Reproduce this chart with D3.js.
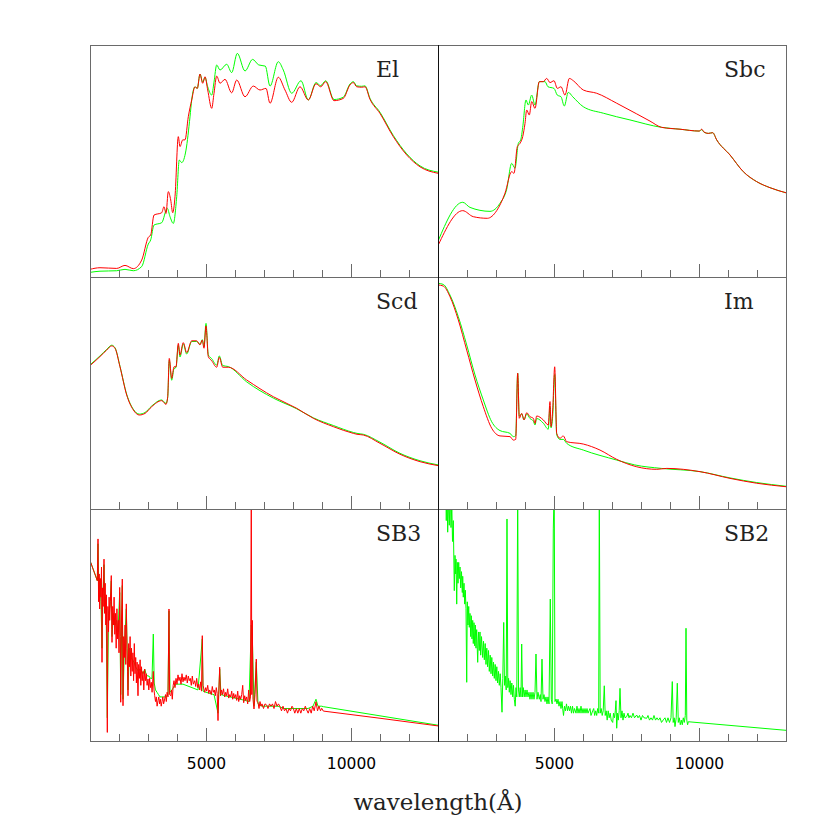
<!DOCTYPE html>
<html><head><meta charset="utf-8">
<script src="https://cdn.jsdelivr.net/npm/d3@7"></script>
<style>body{margin:0;background:#fff}</style>
</head><body>
<svg id="c" width="830" height="830"></svg>
<script>
// ---------------- data ----------------
const panelNames=["El","Sbc","Scd","Im","SB3","SB2"];
const minorTicks=[2000,3000,4000,6000,7000,8000,9000,11000,12000];
const majorTicks=[5000,10000];
const tickLabels=["5000","10000"];
const xTitle="wavelength(Å)";
const xDomain=[1000,13000];

const elRed=[[1000,.033],[1345,.040],[1921,.037],[2207,.050],[2493,.036],[2783,.073],[3010,.171],[3093,.181],[3207,.267],[3472,.277],[3552,.303],[3621,.274],[3700,.368],[3783,.332],[3852,.277],[3931,.346],[4045,.605],[4103,.562],[4197,.591],[4276,.591],[4390,.691],[4507,.763],[4621,.820],[4700,.813],[4793,.875],[4886,.835],[4966,.863],[5059,.806],[5197,.727],[5276,.792],[5369,.866],[5483,.835],[5655,.852],[5886,.794],[6059,.849],[6345,.777],[6631,.823],[6862,.806],[7069,.813],[7207,.749],[7493,.861],[7724,.806],[7955,.753],[8241,.820],[8528,.763],[8793,.833],[8955,.820],[9128,.842],[9414,.760],[9735,.770],[9966,.828],[10079,.838],[10197,.820],[10369,.818],[10483,.820],[10655,.766],[11000,.705],[11459,.605],[11921,.526],[12379,.475],[13000,.447]];
const elGreen=[[1000,.020],[1345,.025],[1921,.027],[2207,.033],[2493,.027],[2783,.045],[3010,.142],[3093,.160],[3207,.224],[3472,.234],[3666,.296],[3759,.260],[3873,.231],[3990,.346],[4079,.504],[4162,.493],[4310,.547],[4448,.690],[4507,.763],[4621,.820],[4700,.813],[4793,.875],[4886,.840],[4966,.860],[5059,.820],[5197,.784],[5276,.840],[5369,.914],[5483,.892],[5714,.917],[5886,.881],[6079,.964],[6345,.888],[6607,.938],[6820,.914],[7045,.909],[7207,.823],[7493,.928],[7666,.892],[7955,.792],[8276,.846],[8528,.763],[8793,.838],[8955,.825],[9128,.846],[9414,.765],[9735,.775],[9966,.832],[10079,.842],[10197,.824],[10369,.822],[10483,.824],[10655,.770],[11000,.710],[11459,.610],[11921,.531],[12379,.479],[13000,.452]];

const sbcRed=[[1010,.138],[1852,.286],[2217,.260],[2700,.253],[3024,.286],[3310,.361],[3541,.454],[3621,.447],[3735,.562],[3828,.576],[3921,.605],[4000,.662],[4059,.720],[4148,.698],[4231,.756],[4345,.727],[4493,.842],[4631,.842],[4748,.856],[4862,.838],[5000,.846],[5114,.813],[5241,.820],[5379,.784],[5528,.856],[5666,.846],[6010,.806],[6472,.792],[7162,.749],[7852,.703],[8310,.672],[8714,.645],[9345,.637],[10010,.629],[10093,.637],[10172,.625],[10320,.619],[10472,.622],[10610,.591],[11069,.526],[11528,.454],[11990,.411],[12448,.385],[13000,.363]];
const sbcGreen=[[1010,.157],[1852,.322],[2103,.300],[2793,.283],[3138,.318],[3368,.378],[3541,.490],[3655,.469],[3770,.576],[3852,.591],[3921,.645],[4034,.763],[4114,.741],[4231,.784],[4345,.741],[4493,.842],[4690,.842],[4793,.820],[5000,.813],[5114,.784],[5241,.777],[5355,.737],[5493,.796],[5645,.777],[6010,.734],[6700,.706],[7620,.677],[8714,.645],[9345,.637],[10010,.629],[10093,.635],[10172,.624],[10320,.619],[10472,.622],[10610,.591],[11069,.526],[11528,.454],[11990,.411],[12448,.385],[13000,.363]];

const scdRed=[[1000,.618],[1345,.657],[1576,.685],[1748,.703],[1862,.693],[2034,.613],[2266,.491],[2493,.427],[2700,.405],[2897,.412],[3128,.441],[3472,.467],[3621,.451],[3679,.484],[3734,.649],[3817,.563],[3897,.613],[3966,.613],[4045,.714],[4103,.664],[4217,.717],[4334,.674],[4507,.725],[4679,.725],[4793,.707],[4872,.728],[4931,.693],[5000,.789],[5079,.657],[5197,.639],[5369,.611],[5459,.654],[5576,.611],[5769,.611],[6403,.556],[7321,.484],[8128,.434],[8700,.391],[9390,.355],[10079,.326],[10207,.322],[10424,.319],[11000,.283],[11690,.236],[12379,.204],[13000,.187]];
const scdGreen=[[1000,.621],[1345,.660],[1576,.688],[1748,.706],[1862,.695],[2034,.615],[2266,.494],[2493,.430],[2700,.409],[2897,.416],[3128,.444],[3472,.470],[3621,.455],[3679,.480],[3734,.640],[3817,.555],[3897,.605],[3966,.610],[4045,.705],[4103,.655],[4217,.712],[4334,.668],[4507,.722],[4679,.722],[4793,.710],[4872,.730],[4931,.700],[5000,.800],[5079,.664],[5197,.648],[5369,.620],[5459,.660],[5576,.618],[5769,.614],[6403,.548],[7321,.478],[8128,.432],[8700,.393],[9390,.360],[10079,.330],[10207,.326],[10424,.322],[11000,.288],[11690,.240],[12379,.208],[13000,.190]];

const imRed=[[1000,.966],[1183,.961],[1414,.915],[1700,.815],[1990,.685],[2276,.556],[2562,.441],[2852,.348],[3138,.315],[3483,.312],[3597,.297],[3679,.300],[3748,.585],[3803,.391],[3886,.412],[3966,.384],[4059,.415],[4172,.398],[4286,.391],[4345,.369],[4403,.401],[4631,.384],[4803,.362],[4862,.463],[4897,.355],[4955,.427],[5024,.613],[5093,.326],[5207,.305],[5321,.315],[5438,.290],[6010,.280],[6586,.254],[7162,.214],[7852,.182],[8541,.171],[8886,.175],[10034,.161],[11069,.132],[11990,.111],[13000,.096]];
const imGreen=[[1000,.973],[1183,.968],[1414,.922],[1700,.829],[1990,.707],[2276,.578],[2562,.470],[2852,.376],[3138,.338],[3483,.326],[3597,.312],[3679,.315],[3748,.585],[3803,.400],[3886,.410],[3966,.385],[4059,.410],[4172,.390],[4286,.380],[4345,.362],[4403,.390],[4631,.370],[4803,.344],[4862,.440],[4897,.350],[4955,.400],[5024,.580],[5093,.320],[5207,.300],[5321,.300],[5438,.283],[6010,.254],[7162,.211],[7783,.190],[8700,.175],[10034,.161],[11069,.134],[11990,.114],[13000,.098]];

const sb3Red=[[1024,.770],[1252,.691],[1276,.871],[1297,.60],[1317,.72],[1334,.569],[1355,.70],[1376,.62],[1397,.75],[1414,.339],[1434,.66],[1455,.58],[1483,.784],[1503,.55],[1524,.68],[1545,.50],[1566,.63],[1597,.037],[1617,.58],[1638,.47],[1659,.62],[1679,.52],[1703,.60],[1734,.713],[1752,.48],[1759,.425],[1783,.58],[1807,.50],[1831,.62],[1855,.46],[1879,.55],[1903,.40],[1928,.57],[1952,.44],[1976,.52],[2000,.38],[2024,.662],[2045,.45],[2059,.167],[2083,.50],[2114,.698],[2138,.152],[2162,.45],[2186,.36],[2210,.50],[2234,.33],[2252,.591],[2276,.40],[2297,.30],[2310,.195],[2334,.42],[2359,.32],[2383,.45],[2407,.28],[2431,.40],[2455,.30],[2479,.38],[2503,.26],[2528,.42],[2552,.29],[2576,.36],[2600,.25],[2624,.34],[2655,.195],[2679,.33],[2703,.27],[2728,.35],[2752,.24],[2776,.32],[2800,.26],[2828,.30],[2855,.22],[2886,.310],[2914,.26],[2941,.29],[2969,.24],[3000,.267],[3028,.22],[3055,.27],[3083,.23],[3114,.253],[3141,.21],[3183,.30],[3207,.22],[3231,.195],[3259,.17],[3286,.19],[3314,.15],[3345,.174],[3372,.19],[3400,.16],[3428,.18],[3455,.15],[3483,.17],[3510,.19],[3538,.16],[3576,.181],[3603,.20],[3631,.17],[3659,.21],[3690,.19],[3724,.569],[3745,.20],[3783,.195],[3810,.22],[3838,.18],[3869,.24],[3897,.260],[3931,.23],[3966,.27],[4000,.245],[4034,.285],[4069,.26],[4103,.275],[4138,.245],[4172,.29],[4207,.255],[4241,.275],[4276,.26],[4321,.285],[4355,.25],[4390,.28],[4424,.26],[4459,.27],[4493,.24],[4528,.28],[4562,.245],[4610,.26],[4645,.235],[4679,.27],[4714,.23],[4748,.245],[4783,.22],[4817,.255],[4845,.215],[4872,.454],[4897,.24],[4955,.21],[4990,.23],[5024,.215],[5059,.24],[5093,.205],[5128,.22],[5183,.20],[5217,.235],[5252,.21],[5286,.22],[5321,.195],[5355,.23],[5386,.205],[5414,.088],[5438,.20],[5472,.318],[5500,.195],[5534,.22],[5569,.20],[5603,.225],[5645,.19],[5679,.21],[5714,.195],[5748,.225],[5783,.185],[5817,.20],[5852,.19],[5886,.215],[5921,.18],[5955,.205],[5990,.185],[6024,.20],[6059,.175],[6093,.215],[6128,.17],[6162,.195],[6197,.18],[6231,.20],[6266,.24],[6300,.165],[6334,.195],[6369,.175],[6403,.19],[6438,.16],[6472,.22],[6507,.17],[6534,.19],[6562,1.08],[6579,.20],[6597,.52],[6621,.18],[6655,.138],[6690,.20],[6734,.353],[6759,.17],[6793,.167],[6828,.14],[6862,.17],[6897,.15],[6931,.16],[6983,.14],[7034,.16],[7093,.155],[7138,.14],[7190,.16],[7241,.15],[7293,.16],[7345,.14],[7397,.17],[7448,.15],[7500,.16],[7552,.148],[7603,.13],[7655,.15],[7707,.13],[7759,.14],[7810,.12],[7862,.14],[7914,.13],[7966,.15],[8010,.141],[8062,.12],[8114,.14],[8166,.12],[8217,.14],[8269,.12],[8321,.14],[8372,.13],[8424,.15],[8472,.134],[8524,.12],[8576,.14],[8628,.12],[8679,.15],[8731,.13],[8793,.169],[8845,.13],[8897,.15],[8948,.13],[8990,.141],[9045,.129],[11000,.098],[13000,.065]];
const sb3Green=[[1024,.770],[1252,.691],[1276,.85],[1310,.62],[1345,.70],[1379,.60],[1414,.40],[1448,.64],[1483,.76],[1517,.58],[1552,.62],[1597,.10],[1638,.55],[1690,.58],[1734,.69],[1759,.45],[1810,.55],[1862,.50],[1914,.52],[1966,.47],[2024,.64],[2059,.20],[2114,.67],[2138,.18],[2190,.42],[2252,.57],[2310,.22],[2362,.40],[2414,.36],[2466,.35],[2517,.34],[2569,.32],[2621,.31],[2672,.30],[2724,.31],[2776,.30],[2828,.29],[2886,.31],[2931,.29],[2983,.28],[3034,.28],[3086,.27],[3138,.27],[3183,.461],[3214,.25],[3259,.22],[3310,.21],[3362,.20],[3414,.19],[3483,.19],[3552,.19],[3621,.19],[3690,.20],[3724,.56],[3759,.21],[3828,.22],[3897,.235],[3966,.245],[4034,.245],[4103,.245],[4207,.245],[4310,.24],[4414,.235],[4517,.23],[4621,.225],[4724,.22],[4872,.44],[4897,.215],[5000,.21],[5138,.205],[5276,.20],[5414,.12],[5472,.31],[5517,.20],[5655,.195],[5828,.19],[6000,.185],[6172,.18],[6345,.175],[6483,.17],[6562,.50],[6597,.45],[6655,.15],[6734,.34],[6793,.16],[6931,.15],[7093,.15],[7276,.15],[7483,.15],[7690,.14],[7897,.14],[8103,.14],[8310,.14],[8517,.14],[8690,.15],[8793,.18],[8862,.15],[8990,.15],[9045,.148],[12955,.069],[13000,.068]];

const sb2Green=[[1155,1.40],[1217,1.05],[1252,1.20],[1286,.95],[1310,1.10],[1334,.90],[1362,1.05],[1390,.93],[1424,1.10],[1448,.92],[1476,1.02],[1500,.86],[1528,.95],[1562,.648],[1586,.80],[1610,.72],[1621,.784],[1645,.590],[1666,.77],[1690,.68],[1714,.77],[1734,.70],[1759,.75],[1783,.66],[1810,.73],[1838,.64],[1852,.71],[1872,.62],[1897,.68],[1921,.59],[1941,.65],[1966,.57],[1990,.253],[2010,.60],[2034,.50],[2059,.58],[2079,.49],[2103,.55],[2128,.45],[2148,.54],[2172,.44],[2197,.52],[2217,.42],[2241,.51],[2266,.41],[2286,.50],[2310,.40],[2334,.48],[2369,.339],[2397,.47],[2424,.39],[2448,.47],[2472,.37],[2500,.45],[2541,.36],[2569,.43],[2597,.35],[2628,.42],[2655,.33],[2683,.40],[2710,.32],[2741,.39],[2769,.30],[2800,.37],[2828,.29],[2855,.36],[2886,.28],[2914,.34],[2941,.27],[2972,.33],[3000,.26],[3028,.32],[3055,.25],[3086,.30],[3114,.24],[3145,.29],[3172,.23],[3207,.124],[3234,.27],[3266,.511],[3293,.24],[3321,.28],[3352,.22],[3379,.957],[3407,.23],[3434,.27],[3459,.21],[3486,.26],[3517,.20],[3545,.25],[3576,.19],[3603,.24],[3631,.18],[3662,.15],[3690,.23],[3717,.19],[3748,1.10],[3776,.22],[3803,.19],[3834,.23],[3862,.19],[3886,.418],[3914,.19],[3941,.23],[3972,.19],[4003,.22],[4034,.19],[4069,.22],[4103,.19],[4138,.21],[4172,.18],[4207,.21],[4241,.18],[4276,.21],[4310,.18],[4345,.21],[4379,.375],[4414,.18],[4448,.21],[4493,.18],[4528,.20],[4552,.17],[4586,.353],[4621,.18],[4655,.20],[4690,.17],[4724,.19],[4759,.16],[4793,.19],[4828,.16],[4872,.612],[4907,.18],[4938,.16],[4976,.914],[5007,1.10],[5034,.17],[5069,.181],[5103,.16],[5138,.18],[5172,.15],[5207,.17],[5241,.14],[5276,.17],[5300,.14],[5328,.11],[5362,.15],[5397,.13],[5431,.16],[5466,.13],[5500,.15],[5534,.13],[5569,.15],[5603,.12],[5638,.15],[5672,.12],[5707,.14],[5759,.12],[5793,.15],[5828,.12],[5862,.14],[5897,.12],[5931,.15],[5966,.12],[6000,.14],[6034,.12],[6069,.14],[6103,.12],[6138,.14],[6172,.12],[6207,.13],[6241,.14],[6276,.11],[6334,.13],[6369,.14],[6403,.11],[6438,.13],[6472,.11],[6507,.14],[6541,.12],[6562,1.10],[6593,.12],[6628,.14],[6662,.11],[6697,.13],[6734,.238],[6766,.11],[6800,.13],[6834,.09],[6869,.13],[6903,.10],[6938,.12],[6972,.09],[7024,.080],[7052,.12],[7086,.10],[7114,.13],[7138,.174],[7162,.055],[7190,.12],[7217,.09],[7248,.13],[7276,.227],[7310,.10],[7345,.13],[7379,.09],[7414,.12],[7448,.10],[7507,.105],[7552,.12],[7586,.10],[7621,.11],[7672,.10],[7724,.12],[7776,.10],[7852,.112],[7897,.10],[7948,.11],[8000,.09],[8052,.11],[8103,.10],[8197,.098],[8241,.11],[8293,.09],[8345,.10],[8397,.09],[8448,.11],[8500,.09],[8552,.10],[8603,.09],[8655,.10],[8707,.08],[8769,.091],[8828,.10],[8879,.08],[8931,.10],[8983,.08],[9034,.10],[9079,.256],[9110,.08],[9145,.10],[9172,.062],[9214,.10],[9252,.249],[9286,.08],[9321,.10],[9355,.07],[9390,.09],[9424,.07],[9459,.10],[9493,.08],[9528,.11],[9552,.486],[9579,.09],[9607,.07],[9631,.083],[13000,.046]];

const panelSeries=[
  {green:elGreen, red:elRed, smooth:true},
  {green:sbcGreen, red:sbcRed, smooth:true},
  {green:scdGreen, red:scdRed, smooth:true},
  {green:imGreen, red:imRed, smooth:true},
  {green:sb3Green, red:sb3Red, smooth:false},
  {green:sb2Green, red:null, smooth:false}
];

// ---------------- layout ----------------
const L=90, T=45, W=348, H=232;
const svg=d3.select("#c");
const frameColor="#6a6a6a";

panelNames.forEach((name,i)=>{
  const col=i%2, row=Math.floor(i/2);
  const x0=L+col*W, y0=T+row*H;
  const x=d3.scaleLinear().domain(xDomain).range([x0,x0+W]);
  const y=d3.scaleLinear().domain([0,1]).range([y0+H,y0]);
  const cid="clip"+i;
  svg.append("clipPath").attr("id",cid).append("rect")
    .attr("x",x0).attr("y",y0).attr("width",W).attr("height",H);
  const g=svg.append("g").attr("clip-path",`url(#${cid})`);
  const s=panelSeries[i];
  const line=d3.line().x(d=>x(d[0])).y(d=>y(d[1]))
    .curve(s.smooth?d3.curveMonotoneX:d3.curveLinear);
  if(s.green) g.append("path").datum(s.green).attr("d",line)
    .attr("fill","none").attr("stroke","#00ff00").attr("stroke-width",1);
  if(s.red) g.append("path").datum(s.red).attr("d",line)
    .attr("fill","none").attr("stroke","#ff0000").attr("stroke-width",1);

  // ticks (inward, at the bottom of each panel)
  const gMinor=svg.append("g").attr("transform",`translate(0,${y0+H})`);
  gMinor.call(d3.axisBottom(x).tickValues(minorTicks).tickSize(-7).tickSizeOuter(0).tickFormat(""));
  const gMajor=svg.append("g").attr("transform",`translate(0,${y0+H})`);
  gMajor.call(d3.axisBottom(x).tickValues(majorTicks).tickSize(-13).tickSizeOuter(0).tickFormat(""));
  [gMinor,gMajor].forEach(ga=>{
    ga.selectAll(".domain").remove();
    ga.selectAll(".tick line").attr("stroke",frameColor);
  });

  if(row===2){
    const gl=svg.append("g").attr("transform",`translate(0,${y0+H})`);
    gl.call(d3.axisBottom(x).tickValues(majorTicks).tickSize(0)
      .tickFormat((d,k)=>tickLabels[k]));
    gl.selectAll(".domain").remove();
    gl.selectAll(".tick line").remove();
    gl.selectAll(".tick text").attr("y",28).attr("dy",null)
      .attr("font-family","DejaVu Sans, sans-serif").attr("font-size","15.5px").attr("fill","#000");
  }

  // frame
  svg.append("rect").attr("x",x0+0.5).attr("y",y0+0.5).attr("width",W).attr("height",H)
    .attr("fill","none").attr("stroke",frameColor).attr("stroke-width",1);

  // label
  svg.append("text").attr("x",x0+286).attr("y",y0+31.5)
    .attr("font-family","DejaVu Serif, serif").attr("font-size","22px")
    .attr("fill","#222").text(name);
});

// dark central divider
svg.append("line").attr("x1",L+W+0.5).attr("x2",L+W+0.5).attr("y1",T).attr("y2",T+3*H+1)
  .attr("stroke","#111").attr("stroke-width",1);

// x title
svg.append("text").attr("x",438).attr("y",810).attr("text-anchor","middle")
  .attr("font-family","DejaVu Serif, serif").attr("font-size","23px").attr("fill","#222")
  .text(xTitle);
</script>
</body></html>
